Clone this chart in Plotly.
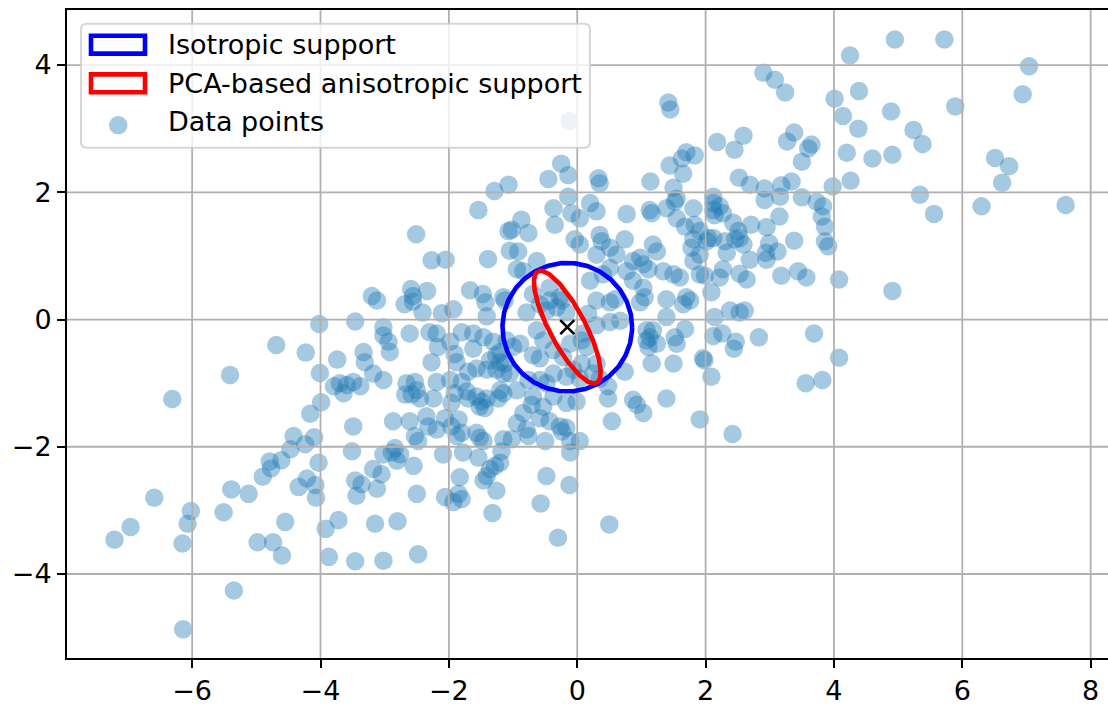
import numpy as np
import plotly.graph_objects as go

# ---------------- data ----------------
x_points = [
    -4.02, -4.69, -4.23, -5.41, -6.31, -4.01, -3.74, -3.79, -3.99, -4.16, -4.42, -4.10, -4.24, -4.47, -4.61,
    -4.79, -4.77, -4.90, -4.03, -4.21, -4.34, -4.08, -4.07, -5.39, -5.12, -6.59, -5.51, -6.02, -6.07, -6.96,
    -7.21, -6.15, -4.55, -4.98, -4.74, -4.60, -3.92, -3.87, -3.72, -5.35, -6.14,
    -1.29, -1.07, -1.54, -2.51, -1.07, -2.27, -2.05, -1.39, -3.20, -3.12, -2.59, -2.56, -2.34, -2.69, -2.56,
    -2.41, -2.11, -1.93, -1.67, -1.47, -1.43, -1.41, -1.13, -3.46, -3.02, -1.05,
    -3.02, -2.94, -2.92, -2.61, -2.30, -2.19, -2.17, -2.27, -1.98, -1.91, -1.88, -3.33, -3.31, -3.18, -3.02,
    -3.70, -3.59, -3.49, -3.38, -3.64, -2.66, -2.53, -2.58, -2.68, -2.45, -2.50, -2.24, -2.19, -1.98, -1.91,
    -1.96, -1.80, -1.72, -1.70, -1.57, -1.49, -1.44, -1.41, -1.52, -1.70, -1.57, -1.41, -1.26, -1.15, -1.15,
    -1.23, -1.80, -1.62, -1.46, -1.31, -1.20, -1.26, -1.62, -1.36, -1.20, -2.87, -2.61, -3.49, -2.35, -2.32,
    -2.19, -2.06, -1.96, -1.85, -1.80, -1.88, -2.53, -2.48, -1.57, -1.52, -1.46, -1.15, -2.84, -2.89, -2.76,
    -2.81, -3.02, -3.51, -2.55, -2.09, -1.78, -1.54, -3.18, -3.05, -3.46, -3.36, -3.44, -3.12, -2.50, -1.83,
    -1.41, -1.36, -1.28, -1.20, -1.26, -1.85, -1.80, -2.06, -1.93, -1.46,
    -1.18, -1.02, -1.32, -3.15, -2.80, -3.46, -3.02, -2.48,
    -0.79, -0.48, -0.32, -0.17, -0.43, -0.24, -0.58, -0.63, -0.53, -0.69, -0.58, -0.37, -0.22, -0.11, 0.07,
    0.09, 0.15, 0.07, 0.30, -0.06, -0.17, -0.37, -0.48, -0.58, -0.76, -1.10, -1.00, -0.89, -1.13, -1.05,
    -1.20, -0.94, -0.69, -0.53, -0.71, -0.84, -0.58, -0.43, -0.27, -0.17, -0.37, -0.17, -0.01, -0.94, -0.79,
    -0.76, -0.50, -0.24, -0.11, 0.04, -0.11, -0.48, -0.12, -0.57, -0.30, 0.50,
    0.48, 0.48, 0.54, 0.74, 0.87, 0.93, 1.03, 1.39, 1.16, 1.11, 1.13, 1.08, 1.24, 1.50, 1.55,
    1.52, 1.68, 1.39, 1.65, 1.96, 2.09, 1.91, 1.08, 1.18, 2.14, 0.67, 0.51, 0.30, 0.17, 0.30,
    0.51, 0.59, 0.98, 1.05, 1.39, 0.04, 0.25, 0.35,
    1.42, 1.45, -0.12, 2.18, 1.70, 1.83, 1.63, 1.44, 1.65, -0.25, -0.14, -0.45, 0.33, 0.35, 1.14,
    1.50, 1.55, 1.52, -0.14, -0.37, -0.35, -0.09, 0.04, 0.20, 0.30, 0.77, 1.13, 1.16, 1.39, 1.55,
    1.68, 1.81, 2.12, 2.12, -1.02, -0.87, -0.76, -0.92, -0.04, 0.04, 0.35, 0.38, 0.51, 0.61, 0.74,
    0.30, -0.63, -0.94, -0.84, 0.87, 0.98, 1.03, 1.11, 1.18, 1.24, 1.34, 1.50, 1.60, 1.78, 1.81,
    1.91, 2.02, 2.04, 1.91, 1.70, 1.03, 0.77, 0.87, 0.51, 0.20, 0.40, -0.27, -0.43, -1.15, -0.69,
    2.90, 3.08, 3.24, 4.25, 4.01, 4.39, 4.14, 4.38, 4.20, 4.60, 4.26, 3.98, 2.59, 2.45, 3.38,
    3.27, 3.65, 3.60, 3.50, 2.52, 2.69, 2.92, 3.18, 3.34, 3.16, 2.92, 3.50, 3.73, 3.83, 3.81,
    3.86, 3.86, 3.91, 4.08, 3.57, 3.44, 3.18, 3.38, 3.15, 2.95, 2.71, 2.99, 2.94, 3.12, 2.95,
    2.69, 2.64, 2.53, 2.27, 2.12, 2.22, 2.27, 2.14, 2.43, 2.51, 2.53, 2.46, 2.59, 2.12, 1.91,
    2.33, 2.22, 1.99, 2.09,
    3.69, 4.08, 3.56, 3.82, 2.83, 2.12, 2.26, 2.47, 2.44, 1.98, 2.42, 2.38, 2.53, 2.61, 1.76,
    2.30, 1.83, 1.81,
    4.95, 5.72, 7.04, 6.94, 4.89, 5.89, 5.24, 5.38, 4.91, 5.34, 5.56, 6.51, 6.73, 6.62, 6.30,
    7.61, 4.91,
]
y_points = [
    -0.07, -0.40, -0.52, -0.87, -1.25, -0.84, -0.63, -1.05, -1.30, -1.48, -1.83, -1.85, -1.96, -2.04, -2.21,
    -2.23, -2.34, -2.47, -2.25, -2.50, -2.63, -2.60, -2.80, -2.67, -2.74, -2.80, -3.03, -3.01, -3.21, -3.26,
    -3.46, -3.52, -3.18, -3.50, -3.50, -3.71, -3.29, -3.73, -3.15, -4.26, -4.87,
    2.02, 2.12, 1.72, 1.34, 1.39, 0.93, 0.94, 0.95, 0.37, 0.30, 0.48, 0.37, 0.45, 0.24, 0.28,
    0.11, 0.10, 0.16, 0.46, 0.40, 0.27, 0.05, 0.30, -0.03, -0.12, 1.08,
    -0.25, -0.35, -0.51, -0.22, -0.20, -0.22, -0.43, -0.67, -0.35, -0.54, -0.67, -0.51, -0.67, -0.85, -0.95,
    -1.00, -1.03, -0.98, -1.05, -1.16, -1.00, -0.98, -1.18, -1.18, -1.24, -1.11, -1.24, -0.98, -0.95, -1.16,
    -1.31, -0.98, -1.13, -1.24, -1.21, -1.29, -1.39, -1.24, -1.37, -0.82, -0.77, -0.79, -0.79, -0.85, -1.16,
    -1.24, -0.20, -0.22, -0.28, -0.35, -0.51, -0.56, -0.46, -0.64, -0.67, -1.60, -1.60, -1.68, -1.52, -1.68,
    -1.73, -1.55, -1.68, -1.57, -1.78, -1.83, -1.83, -1.91, -1.78, -1.86, -1.91, -1.88, -2.02, -2.09, -2.12,
    -2.22, -2.12, -2.07, -2.30, -2.12, -2.09, -2.17, -2.35, -2.43, -2.53, -2.59, -2.77, -2.66, -2.74, -2.48,
    -2.46, -2.35, -2.30, -2.25, -2.69, -2.74, -2.82, -2.79, -2.87, -2.53,
    -2.07, -1.88, -3.04, -3.21, -3.17, -3.80, -3.79, -3.69,
    0.11, 0.14, 0.19, 0.11, 0.30, 0.30, 0.24, -0.17, -0.33, -0.56, -0.61, -0.48, -0.59, -0.38, -0.33,
    -0.22, -0.43, -0.69, -0.69, -0.79, -0.90, -0.85, -1.00, -0.95, -0.95, -0.33, -0.43, -0.38, -0.69, -0.85,
    -1.11, -1.11, -1.21, -1.37, -1.34, -1.47, -1.55, -1.60, -1.68, -1.70, -1.21, -1.31, -1.29, -1.63, -1.73,
    -1.83, -1.91, -1.76, -1.91, -1.91, -2.09, -2.46, -2.60, -2.89, -3.43, -3.22,
    -1.05, -1.24, -1.60, -0.82, -1.26, -1.34, -1.47, -1.24, -0.69, -0.43, -0.28, -0.33, -0.38, -0.69, -0.38,
    -0.28, -0.15, 0.04, 0.24, -0.61, -0.90, -1.57, -0.17, -0.17, 0.04, -0.02, -0.04, -0.09, 0.09, 0.30,
    0.27, 0.32, 0.27, 0.35, 0.32, -0.93, -0.85, -0.93,
    3.41, 3.30, 3.12, 2.79, 2.63, 2.58, 2.53, 2.42, 2.29, 2.45, 2.27, 2.21, 2.22, 2.14, 2.17,
    2.07, 1.90, 1.85, 1.93, 1.75, 1.49, 1.67, 1.59, 1.83, 1.70, 1.66, 1.72, 1.67, 1.75, 1.59,
    1.46, 1.75, 1.83, 1.72, 1.41, 1.57, 1.36, 1.07, 1.26, 1.18, 1.33, 1.23, 1.13, 1.02, 1.26,
    1.02, 0.92, 0.79, 0.76, 0.92, 0.97, 0.87, 0.79, 1.18, 1.07, 0.76, 0.71, 0.66, 1.13, 0.92,
    1.02, 1.23, 1.28, 0.71, 0.35, 0.50, 0.76, 0.61, 0.81, 0.61, 0.71, 0.35, 0.50, 0.35, 0.40,
    3.88, 3.77, 3.57, 4.15, 3.47, 3.59, 3.20, 3.00, 2.62, 2.53, 2.18, 2.09, 2.89, 2.67, 2.94,
    2.80, 2.75, 2.69, 2.48, 2.23, 2.12, 2.06, 2.11, 2.17, 1.93, 1.88, 1.92, 1.85, 1.78, 1.62,
    1.46, 1.23, 1.15, 0.63, 0.66, 0.76, 0.69, 1.24, 1.62, 1.45, 1.49, 1.20, 1.05, 1.07, 0.94,
    0.94, 0.63, 0.72, 0.79, 1.93, 1.78, 1.67, 1.64, 1.52, 1.39, 1.28, 1.26, 1.18, 1.28, 1.39,
    1.05, 0.66, 0.69, 0.43,
    -0.22, -0.60, -1.00, -0.95, -0.28, -0.26, -0.22, -0.35, -0.46, -0.64, -1.80, 0.14, 0.11, 0.14, 0.30,
    1.23, 1.49, 1.26,
    4.40, 4.40, 3.98, 3.54, 3.27, 3.35, 2.98, 2.76, 2.59, 1.96, 1.66, 2.54, 2.41, 2.15, 1.78,
    1.80, 0.45,
]

center = (-0.155, -0.12)          # data mean (black x)
iso_radius = 1.01                 # isotropic support radius
pca_semi_axes = (0.99, 0.28)      # anisotropic support semi-axes
pca_angle_deg = 117.5             # orientation of the long axis

x_ticks = [-6, -4, -2, 0, 2, 4, 6, 8]
y_ticks = [-4, -2, 0, 2, 4]
x_range = [-7.95, 8.27]
y_range = [-5.32, 4.865]

legend_labels = ["Isotropic support", "PCA-based anisotropic support", "Data points"]

# ---------------- figure ----------------
W, H = 1108, 706
L, R, T, B = 67, 1108, 10, 664
FONT = "DejaVu Sans"
FONT_SIZE = 27
GRID = "#b0b0b0"
POINT_COLOR = "rgba(31,119,180,0.4)"
EDGE_W = 4.6


def fmt(v):
    return str(v).replace("-", "\u2212")


fig = go.Figure()

fig.add_trace(go.Scatter(
    x=x_points, y=y_points, mode="markers",
    marker=dict(size=18.5, color=POINT_COLOR, line=dict(width=0)),
    showlegend=False, hoverinfo="skip"))

# grid lines drawn above the points (matplotlib default z-order)
gx, gy = [], []
for t in x_ticks:
    gx += [t, t, None]
    gy += [y_range[0], y_range[1], None]
for t in y_ticks:
    gx += [x_range[0], x_range[1] + 1, None]
    gy += [t, t, None]
fig.add_trace(go.Scatter(x=gx, y=gy, mode="lines", line=dict(color=GRID, width=1.8),
                         showlegend=False, hoverinfo="skip", cliponaxis=True))

theta = np.linspace(0, 2 * np.pi, 361)
cx = center[0] + iso_radius * np.cos(theta)
cy = center[1] + iso_radius * np.sin(theta)
fig.add_trace(go.Scatter(x=cx, y=cy, mode="lines", line=dict(color="#0000ff", width=EDGE_W),
                         showlegend=False, hoverinfo="skip"))

a, b = pca_semi_axes
phi = np.deg2rad(pca_angle_deg)
ex = center[0] + a * np.cos(theta) * np.cos(phi) - b * np.sin(theta) * np.sin(phi)
ey = center[1] + a * np.cos(theta) * np.sin(phi) + b * np.sin(theta) * np.cos(phi)
fig.add_trace(go.Scatter(x=ex, y=ey, mode="lines", line=dict(color="#ff0000", width=EDGE_W),
                         showlegend=False, hoverinfo="skip"))

fig.add_trace(go.Scatter(x=[center[0]], y=[center[1]], mode="markers",
                         marker=dict(symbol="x-thin", size=14, line=dict(color="black", width=2.6)),
                         showlegend=False, hoverinfo="skip"))


# ---------------- manual legend (pixel layout) ----------------
def px(p):
    return (p - L) / (R - L)


def py(p):
    return (B - p) / (B - T)


shapes = []
bx0, bx1, by0, by1, r = 81, 590, 24, 149, 6
rx, ry = px(bx0 + r) - px(bx0), py(by0) - py(by0 + r)
path = (f"M {px(bx0)+rx},{py(by0)} L {px(bx1)-rx},{py(by0)} Q {px(bx1)},{py(by0)} {px(bx1)},{py(by0)-ry} "
        f"L {px(bx1)},{py(by1)+ry} Q {px(bx1)},{py(by1)} {px(bx1)-rx},{py(by1)} "
        f"L {px(bx0)+rx},{py(by1)} Q {px(bx0)},{py(by1)} {px(bx0)},{py(by1)+ry} "
        f"L {px(bx0)},{py(by0)-ry} Q {px(bx0)},{py(by0)} {px(bx0)+rx},{py(by0)} Z")
shapes.append(dict(type="path", path=path, xref="paper", yref="paper", layer="above",
                   fillcolor="rgba(255,255,255,0.8)", line=dict(color="rgba(204,204,204,0.8)", width=2)))
for (y0, y1, col) in [(36, 54, "#0000ff"), (75, 93, "#ff0000")]:
    shapes.append(dict(type="rect", xref="paper", yref="paper", layer="above",
                       x0=px(91), x1=px(145), y0=py(y1), y1=py(y0),
                       line=dict(color=col, width=EDGE_W), fillcolor="rgba(0,0,0,0)"))
shapes.append(dict(type="circle", xref="paper", yref="paper", layer="above",
                   x0=px(109), x1=px(127.5), y0=py(135.5), y1=py(117),
                   fillcolor=POINT_COLOR, line=dict(width=0)))

annotations = []
for lab, yc in zip(legend_labels, [45, 84, 123]):
    annotations.append(dict(text=lab, xref="paper", yref="paper", x=px(166), y=py(yc),
                            xanchor="left", yanchor="middle", showarrow=False,
                            font=dict(family=FONT, size=FONT_SIZE, color="black")))

axis_common = dict(showgrid=False, zeroline=False, showline=True, linecolor="black", linewidth=2,
                   ticks="outside", ticklen=8, tickwidth=2, tickcolor="black",
                   tickfont=dict(family=FONT, size=FONT_SIZE, color="black"))

fig.update_layout(
    width=W, height=H,
    margin=dict(l=L, r=W - R, t=T, b=H - B, pad=0),
    paper_bgcolor="white", plot_bgcolor="white",
    xaxis=dict(range=x_range, tickvals=x_ticks, ticktext=[fmt(v) for v in x_ticks],
               mirror=True, **axis_common),
    yaxis=dict(range=y_range, tickvals=y_ticks, ticktext=[fmt(v) for v in y_ticks],
               mirror=False, **axis_common),
    shapes=shapes, annotations=annotations, showlegend=False,
    font=dict(family=FONT),
)

fig.write_html("out.html")
